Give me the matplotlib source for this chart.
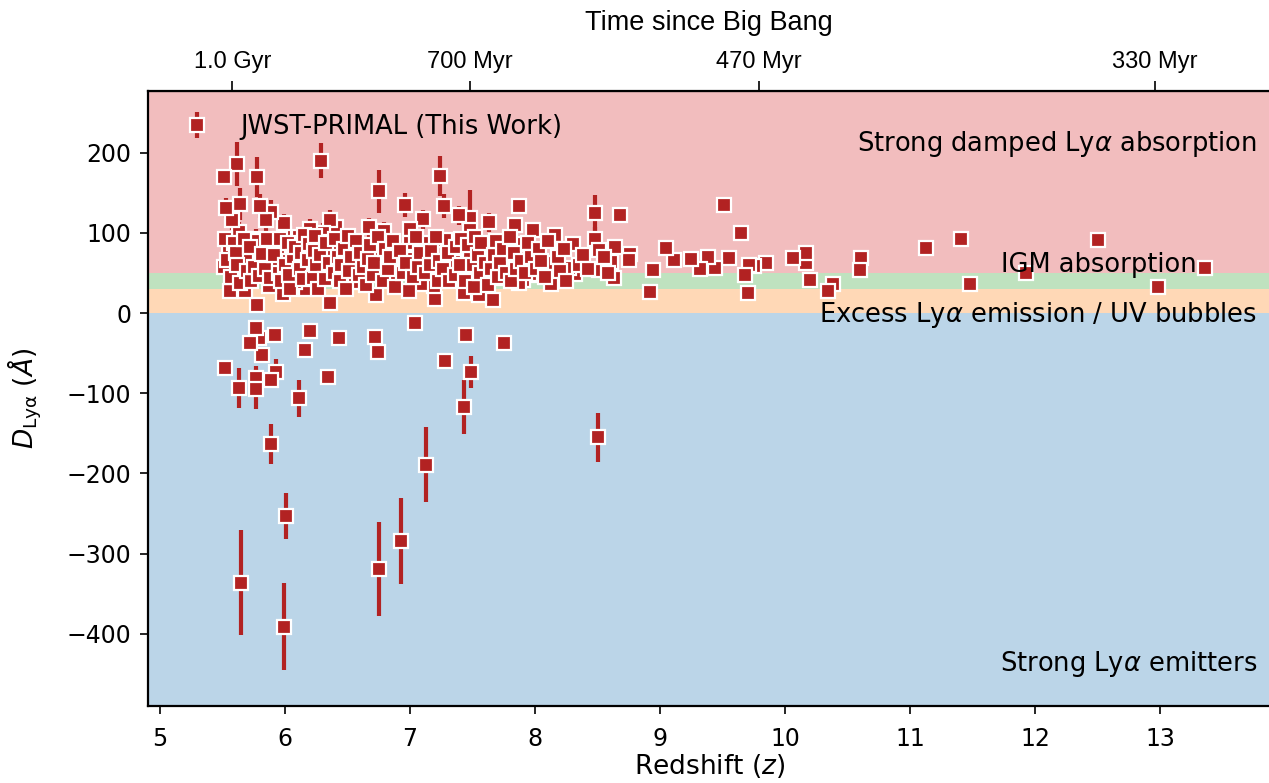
import matplotlib.pyplot as plt

# redshift, D_Lya [A], 1-sigma error [A]
z_sparse = [13.36, 12.98, 12.50, 11.93, 11.48, 11.41, 11.13, 10.61, 10.60, 10.38,
            10.34, 10.20, 10.17, 10.17, 10.06, 9.85, 9.75, 9.71, 9.70, 9.68,
            9.65, 9.51, 9.55, 9.44, 9.38, 9.32, 9.25, 9.11, 9.05, 8.94,
            8.92, 8.76, 8.75, 8.68, 8.64, 8.61, 8.63, 8.48, 8.48, 8.51,
            8.51, 8.50]
d_sparse = [56, 32, 91, 50, 36, 93, 81, 69, 54, 36,
            27, 41, 62, 75, 69, 62, 59, 60, 25, 47,
            100, 135, 69, 56, 70, 55, 67, 66, 81, 54,
            26, 74, 66, 122, 83, 64, 44, 125, 93, 79,
            54, -155]
e_sparse = [8, 8, 8, 8, 8, 8, 8, 8, 8, 8,
            8, 8, 8, 8, 8, 8, 8, 8, 8, 8,
            8, 8, 8, 8, 8, 8, 8, 8, 8, 8,
            8, 8, 8, 8, 8, 8, 8, 22, 15, 10,
            10, 31]

z_main = [8.32, 8.30, 8.27, 8.16, 8.13, 8.13, 7.99, 7.98, 7.96, 7.90,
          7.90, 7.88, 7.87, 7.84, 7.87, 7.78, 7.75, 7.75, 7.66, 7.64,
          7.63, 7.59, 7.55, 7.48, 7.48, 7.48, 7.48, 7.49, 7.45, 7.43,
          7.43, 7.39, 7.35, 7.28, 7.28, 7.27, 7.24, 7.24, 7.20, 7.19,
          7.14, 7.13, 7.13, 7.10, 7.09, 7.04, 7.03, 7.00, 7.00, 6.99,
          6.96, 6.93, 6.90, 6.89, 6.87, 6.79, 6.76, 6.76, 6.75, 6.75,
          6.74, 6.73, 6.72, 6.67, 6.56, 6.55, 6.54, 6.43, 6.41, 6.38,
          6.36, 6.36, 6.34, 6.31, 6.30, 6.29, 6.27, 6.21, 6.20, 6.20,
          6.17, 6.16, 6.11, 6.11, 6.09, 6.08, 6.01, 6.01, 5.99, 5.99,
          5.99, 5.98, 5.94, 5.93, 5.92, 5.92, 5.89, 5.89, 5.89, 5.87,
          5.85, 5.82, 5.80, 5.79, 5.78, 5.78, 5.77, 5.77, 5.77, 5.77,
          5.77, 5.76, 5.72, 5.69, 5.68, 5.65, 5.64, 5.63, 5.63, 5.62,
          5.60, 5.58, 5.56, 5.55, 5.53, 5.52, 5.51, 5.51]
d_main = [49, 86, 56, 97, 62, 36, 47, 104, 49, 60,
          41, 86, 133, 110, 37, 68, 44, -37, 16, 81,
          113, 45, 22, 118, 104, 70, 51, -73, -27, 25,
          -117, 122, 64, 91, -60, 134, 171, 49, 17, 34,
          87, 67, -189, 117, 36, -12, 67, 105, 87, 27,
          135, -284, 66, 60, 41, 103, 74, 53, 152, -319,
          -49, 22, -30, 107, 39, 63, 83, -31, 107, 76,
          116, 13, -80, 56, 100, 190, 89, 56, 105, -22,
          30, -46, 95, -106, 62, 39, 75, -253, 99, 112,
          -391, 24, 83, -74, 62, -27, 126, -84, -163, 34,
          116, -52, 134, -31, 170, 10, 93, 63, -19, -81,
          -95, 90, -37, 70, 27, -336, 136, 101, -93, 186,
          49, 116, 27, 81, 131, -68, 170, 57]
e_main = [8, 8, 8, 10, 8, 8, 8, 10, 8, 8,
          8, 10, 10, 10, 8, 8, 8, 8, 8, 10,
          12, 8, 8, 35, 10, 10, 10, 20, 8, 8,
          34, 12, 10, 10, 8, 15, 25, 8, 8, 8,
          10, 10, 47, 12, 8, 8, 8, 10, 10, 8,
          15, 54, 8, 8, 8, 10, 10, 10, 27, 59,
          10, 8, 8, 12, 8, 8, 10, 8, 10, 10,
          12, 8, 10, 10, 12, 22, 10, 10, 12, 8,
          8, 8, 10, 23, 10, 8, 10, 29, 12, 12,
          54, 8, 10, 17, 10, 8, 15, 10, 25, 8,
          15, 8, 15, 8, 25, 8, 12, 10, 8, 15,
          25, 10, 8, 10, 8, 65, 20, 12, 25, 27,
          10, 12, 8, 10, 12, 8, 10, 10]

# partly hidden squares inside the dense cluster
z_fill = [5.52, 5.54, 5.57, 5.59, 5.61, 5.62, 5.64, 5.67, 5.70,
          5.72, 5.73, 5.75, 5.79, 5.82, 5.84, 5.86,
          5.88, 5.91, 5.95, 5.96, 5.97, 6.00, 6.02, 6.03, 6.04,
          6.06, 6.08, 6.12, 6.13, 6.14, 6.15, 6.18, 6.19, 6.22,
          6.23, 6.24, 6.25, 6.26, 6.28, 6.32, 6.33, 6.35, 6.39, 6.40,
          6.42, 6.44, 6.45, 6.47, 6.49, 6.50, 6.51, 6.53, 6.57, 6.59,
          6.60, 6.62, 6.65, 6.66, 6.68, 6.70, 6.71, 6.74, 6.78,
          6.80, 6.82, 6.84, 6.86, 6.88, 6.92, 6.94, 6.97, 7.02,
          7.05, 7.06, 7.08, 7.12, 7.16, 7.17, 7.21, 7.22,
          7.23, 7.26, 7.30, 7.31, 7.36, 7.37, 7.40, 7.41, 7.44,
          7.46, 7.50, 7.51, 7.52, 7.54, 7.56, 7.57, 7.60, 7.62,
          7.65, 7.67, 7.69, 7.70, 7.72, 7.74, 7.77, 7.80, 7.81, 7.83,
          7.85, 7.89, 7.92, 7.94, 7.97, 8.01, 8.03, 8.05, 8.08, 8.10,
          8.18, 8.20, 8.23, 8.25, 8.35, 8.38, 8.42, 8.55, 8.58]
d_fill = [92, 66, 45, 88, 75, 60, 38, 92, 52,
          82, 40, 58, 46, 74, 55, 92,
          44, 73, 50, 92, 40, 60, 88, 48, 30,
          70, 82, 55, 75, 42, 98, 66, 86, 44,
          78, 96, 60, 30, 72, 42, 88, 62, 50, 92,
          70, 40, 60, 80, 30, 96, 52, 70, 90, 47,
          75, 58, 35, 68, 85, 48, 62, 95, 40,
          80, 55, 70, 90, 32, 78, 50, 62, 45,
          95, 58, 75, 50, 60, 78, 95, 40,
          65, 55, 75, 40, 48, 82, 60, 92, 40,
          85, 60, 33, 95, 72, 50, 88, 62, 35,
          55, 72, 90, 45, 62, 80, 50, 95, 40, 75,
          55, 65, 50, 88, 70, 55, 80, 65, 45, 90,
          70, 52, 80, 40, 60, 72, 55, 70, 50]
e_fill = [10] * len(z_fill)

band_edges = [-490, 0, 30, 50, 277]
band_colors = ["tab:blue", "tab:orange", "tab:green", "tab:red"]

time_z = [5.58, 7.48, 9.79, 12.96]
time_labels = ["1.0 Gyr", "700 Myr", "470 Myr", "330 Myr"]

fig = plt.figure(figsize=(12.69, 7.83), dpi=100)
ax = fig.add_axes([0.1166, 0.0983, 0.8844, 0.7855])

for lo, hi, c in zip(band_edges[:-1], band_edges[1:], band_colors):
    ax.axhspan(lo, hi, color=c, alpha=0.3, lw=0, zorder=0)

z_all = z_sparse + z_main + z_fill
d_all = d_sparse + d_main + d_fill
e_all = e_sparse + e_main + e_fill
ax.errorbar(z_all, d_all, yerr=e_all, fmt="s", color="firebrick", ecolor="firebrick",
            elinewidth=3, ms=10, mec="white", mew=1.6, capsize=0,
            label="JWST-PRIMAL (This Work)", zorder=3)

txt = dict(fontsize=18.5, ha="right", va="center", zorder=5)
ax.text(13.775, 211, r"Strong damped Ly$\alpha$ absorption", **txt)
ax.text(13.29, 60, "IGM absorption", **txt)
ax.text(13.775, -2.5, r"Excess Ly$\alpha$ emission / UV bubbles", **txt)
ax.text(13.775, -437, r"Strong Ly$\alpha$ emitters", **txt)

ax.set_xlim(4.904, 13.88)
ax.set_ylim(-490, 277)
ax.set_xticks(range(5, 14))
ax.tick_params(labelsize=17, length=6, width=1.2, pad=6)
ax.tick_params(axis="x", pad=9)
ax.set_xlabel(r"Redshift ($z$)", fontsize=19, labelpad=1)
ax.set_ylabel(r"$D_{\rm Ly\alpha}$ ($Å$)", fontsize=19, labelpad=16)
for s in ax.spines.values():
    s.set_linewidth(1.6)

leg = ax.legend(loc="upper left", frameon=False, fontsize=18.5, handletextpad=0.7)

top = ax.secondary_xaxis("top")
top.set_xticks(time_z)
top.set_xticklabels(time_labels, fontfamily="Liberation Sans")
top.tick_params(labelsize=17, length=7, width=1.2, pad=6)
top.set_xlabel("Time since Big Bang", fontsize=19.5, fontfamily="Liberation Sans", labelpad=15)

fig.savefig("out.png", dpi=100)
